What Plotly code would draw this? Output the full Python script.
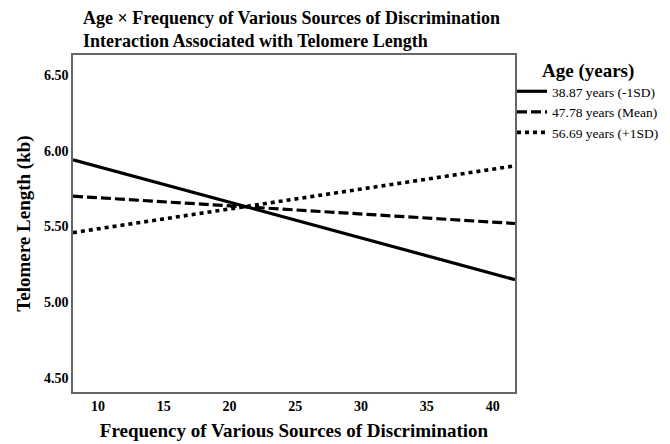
import plotly.graph_objects as go

# Data (simple slopes: endpoints of each age line)
x_range = [8.1, 41.7]
series_names = ["38.87 years (-1SD)", "47.78 years (Mean)", "56.69 years (+1SD)"]
solid_vals = [5.94, 5.15]
dashed_vals = [5.70, 5.52]
dotted_vals = [5.46, 5.90]
x_ticks = [10, 15, 20, 25, 30, 35, 40]
y_ticks = [4.50, 5.00, 5.50, 6.00, 6.50]
y_tick_labels = ["4.50", "5.00", "5.50", "6.00", "6.50"]

FONT = "Liberation Serif, Times New Roman, serif"

# page offset (body margin) compensation
OFF = 8
# plot area in screen pixels
L, R, T, B = 73 - OFF, 515 - OFF, 55 - OFF, 392 - OFF
PW, PH = R - L, B - T


def px_x(x):
    return (x - OFF - L) / PW


def px_y(y):
    return 1 - (y - OFF - T) / PH


fig = go.Figure()
styles = [("solid", 3.2), ("10px,4px", 3.2), ("4px,4px", 3.6)]
for name, vals, (dash, w) in zip(series_names, [solid_vals, dashed_vals, dotted_vals], styles):
    fig.add_trace(go.Scatter(
        x=x_range, y=vals, mode="lines", name=name,
        line=dict(color="black", width=w, dash=dash),
    ))

fig.update_layout(
    template="none",
    width=670, height=444,
    margin=dict(l=L, r=670 - R, t=T, b=444 - B, pad=0),
    plot_bgcolor="white", paper_bgcolor="white",
    font=dict(family=FONT, color="black"),
    showlegend=True,
    legend=dict(
        x=px_x(512), xanchor="left", y=px_y(76), yanchor="top",
        bgcolor="rgba(0,0,0,0)", font=dict(size=13.5, family=FONT, color="black"),
        itemwidth=30, tracegroupgap=0, traceorder="normal",
    ),
    annotations=[
        dict(
            text="<b>Age × Frequency of Various Sources of Discrimination<br>Interaction Associated with Telomere Length</b>",
            x=px_x(81), y=px_y(29), xref="paper", yref="paper",
            xanchor="left", yanchor="middle", align="left", showarrow=False,
            font=dict(size=18, family=FONT, color="black"),
        ),
        dict(
            text="<b>Age (years)</b>", x=px_x(540), y=px_y(71), xref="paper", yref="paper",
            xanchor="left", yanchor="middle", showarrow=False,
            font=dict(size=19, family=FONT, color="black"),
        ),
    ],
)

fig.update_xaxes(
    range=[8.1, 41.7], tickvals=x_ticks, ticktext=[f"<b>{t}</b>" for t in x_ticks],
    showgrid=False, zeroline=False, showline=True, linecolor="#666", linewidth=1.5, mirror=True,
    ticks="", automargin=False, tickfont=dict(size=14, family=FONT, color="black"),
    title=dict(text="<b>Frequency of Various Sources of Discrimination</b>",
               font=dict(size=19, family=FONT, color="black"), standoff=11),
)
fig.update_yaxes(
    range=[4.41, 6.63], tickvals=y_ticks, ticktext=[f"<b>{t}</b>" for t in y_tick_labels],
    showgrid=False, zeroline=False, showline=True, linecolor="#666", linewidth=1.5, mirror=True,
    ticks="", automargin=False, tickfont=dict(size=14, family=FONT, color="black"),
    title=dict(text="<b>Telomere Length (kb)</b>", font=dict(size=19, family=FONT, color="black"), standoff=8),
)

fig.write_html("out.html")
